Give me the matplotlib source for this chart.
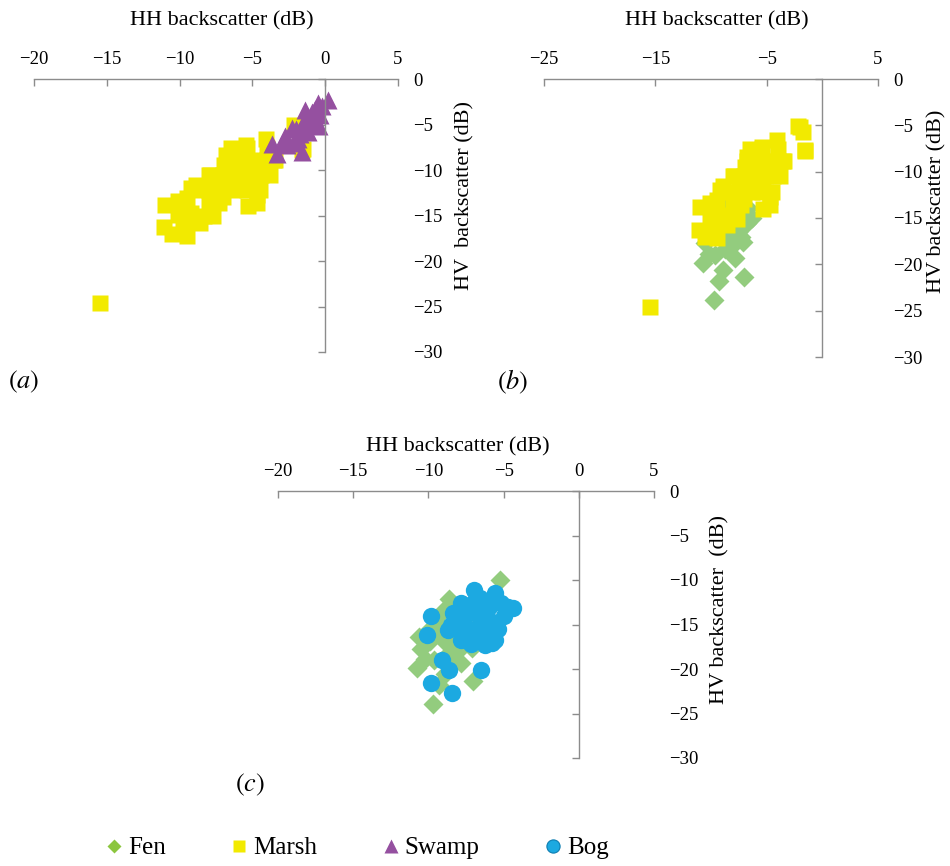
import numpy as np
import matplotlib
matplotlib.use('Agg')
import matplotlib.pyplot as plt
from matplotlib.lines import Line2D

plt.rcParams['font.family'] = ['Liberation Serif', 'DejaVu Serif']
plt.rcParams['mathtext.fontset'] = 'stix'

# HH / HV backscatter (dB) per wetland class
marsh_hh = [-15.5, -11.0, -11.1, -10.5, -9.5, -10.1, -10.1, -9.2, -8.9, -8.3, -8.0, -9.5,
            -8.9, -8.0, -6.8, -7.4, -6.95, -6.8, -6.2, -5.9, -5.45, -5.3, -5.3, -4.7, -4.7,
            -4.4, -3.8, -3.5, -4.1, -2.15, -1.7, -1.55, -6.5, -7.5, -5.0, -7.0, -6.0, -2.0, -1.6,
            -8.9, -8.0, -7.2, -7.9, -7.0, -6.1, -5.15, -6.75, -5.85, -4.9, -4.0, -3.45,
            -6.5, -5.4, -4.0, -7.3, -6.3, -5.4, -4.5, -4.4, -7.7, -8.6, -9.8, -9.2]
marsh_hv = [-24.6, -13.8, -16.3, -17.0, -17.2, -13.4, -14.9, -14.7, -15.6, -15.0, -13.4, -13.1,
            -11.6, -10.5, -12.0, -12.7, -9.5, -8.4, -8.0, -9.8, -7.3, -11.3, -14.0, -12.7, -13.6,
            -9.5, -10.5, -8.9, -6.6, -5.1, -5.7, -7.7, -10.8, -11.5, -10.0, -13.0, -11.5, -5.2, -7.8,
            -12.2, -12.2, -12.2, -10.5, -10.5, -10.5, -10.5, -8.9, -8.9, -8.9, -8.9, -8.9,
            -7.6, -7.6, -7.6, -13.6, -12.2, -12.2, -12.2, -10.5, -15.1, -15.8, -16.0, -12.0]

swamp_hh = [0.2, -0.5, -1.4, -0.35, -1.0, -1.6, -0.45, -2.3, -1.7, -2.75, -3.65, -3.3,
            -1.6, -2.6, -0.9, -1.2, -0.2, -3.0, -2.0, -1.2, -0.7, -1.3, -0.8, -2.2, -1.9]
swamp_hv = [-2.3, -2.6, -3.4, -4.0, -4.5, -5.1, -5.2, -5.4, -6.0, -6.3, -7.1, -8.2,
            -8.0, -7.3, -3.6, -5.8, -3.0, -7.0, -5.5, -4.2, -3.3, -5.0, -4.8, -7.0, -6.6]

fen_hh = [-9.7, -9.3, -7.05, -10.75, -10.2, -8.9, -7.8, -8.4, -7.1, -7.55, -6.35, -6.65, -5.25,
          -8.6, -10.5, -10.6, -9.4, -8.2, -9.0, -7.6, -8.9, -10.0, -6.8, -7.3, -9.6, -8.7,
          -9.9, -8.3, -7.9, -9.2]
fen_hv = [-23.9, -21.8, -21.4, -19.9, -18.9, -20.6, -19.3, -18.2, -17.6, -16.5, -15.0, -13.9, -10.0,
          -12.1, -17.7, -16.4, -16.0, -14.5, -13.5, -14.8, -17.0, -15.7, -15.5, -17.0, -19.0, -18.3,
          -16.8, -16.8, -17.8, -15.0]

bog_hh = [-7.0, -5.6, -4.7, -4.35, -5.15, -9.8, -10.1, -7.8, -8.35, -8.7, -7.6, -6.7, -6.5,
          -6.9, -5.8, -5.6, -7.8, -6.25, -9.1, -8.6, -6.5, -9.8, -8.45, -6.0, -7.3, -8.0,
          -7.5, -6.0, -5.0, -7.0, -6.3, -7.3, -8.0, -6.0, -5.4, -7.9, -6.6, -7.2, -8.5]
bog_hv = [-11.1, -11.5, -13.0, -13.2, -12.6, -14.1, -16.2, -12.6, -13.7, -15.6, -14.9, -13.9, -15.2,
          -16.4, -17.1, -16.7, -16.7, -17.3, -19.0, -20.1, -20.1, -21.6, -22.7, -15.2, -15.5, -14.5,
          -13.5, -13.0, -14.0, -12.5, -16.0, -16.5, -15.2, -14.5, -15.5, -14.0, -12.0, -17.2, -15.0]

xticks_ac = [-20, -15, -10, -5, 0, 5]
xticks_b = [-25, -15, -5, 5]
yticks = [0, -5, -10, -15, -20, -25, -30]

yellow = '#F2EA00'
purple = '#9550A0'
green = '#93CC7E'
blue = '#1CA9E1'
gray = '#8C8C8C'

W, H = 950, 866
fig = plt.figure(figsize=(9.5, 8.66), dpi=100)


def px_axes(x0, x1, y0, y1):
    # axes box from pixel coords (top-left origin)
    return fig.add_axes([x0 / W, 1 - y1 / H, (x1 - x0) / W, (y1 - y0) / H])


def setup(ax, xmin, xticks):
    ax.set_xlim(xmin, 5)
    ax.set_ylim(-30, 0)
    ax.set_xticks(xticks)
    ax.set_yticks(yticks)
    ax.spines['left'].set_position(('data', 0))
    ax.spines['right'].set_visible(False)
    ax.spines['bottom'].set_visible(False)
    for s in ['left', 'top']:
        ax.spines[s].set_color(gray)
        ax.spines[s].set_linewidth(1.0)
    ax.tick_params(axis='x', top=True, bottom=False, labeltop=True, labelbottom=False,
                   direction='in', length=5, width=1, color=gray, labelsize=13.5, pad=8)
    ax.tick_params(axis='y', left=True, right=False, labelleft=False, labelright=True,
                   direction='out', length=5, width=1, color=gray, labelsize=13.5, pad=6)
    ax.patch.set_alpha(0)


def ftext(x, y, s, **kw):
    fig.text(x / W, 1 - y / H, s, **kw)


# (a) marsh + swamp
ax1 = px_axes(34, 398, 79, 352)
setup(ax1, -20, xticks_ac)
ax1.plot(marsh_hh, marsh_hv, 's', ms=12, color=yellow, mec='none', ls='none')
ax1.plot(swamp_hh, swamp_hv, '^', ms=13.5, color=purple, mec='none', ls='none')

# (b) fen + marsh
ax2 = px_axes(544, 878, 79, 357)
setup(ax2, -25, xticks_b)
ax2.plot(fen_hh, fen_hv, 'D', ms=10.5, color=green, mec='none', ls='none')
ax2.plot(marsh_hh, marsh_hv, 's', ms=12, color=yellow, mec='none', ls='none')

# (c) fen + bog
ax3 = px_axes(278, 654, 491, 758)
setup(ax3, -20, xticks_ac)
ax3.plot(fen_hh, fen_hv, 'D', ms=10.5, color=green, mec='none', ls='none')
ax3.plot(bog_hh, bog_hv, 'o', ms=12.5, color=blue, mec='none', ls='none')

# axis titles
ftext(222, 21, 'HH backscatter (dB)', ha='center', va='center', fontsize=16)
ftext(717, 21, 'HH backscatter (dB)', ha='center', va='center', fontsize=16)
ftext(458, 447, 'HH backscatter (dB)', ha='center', va='center', fontsize=16)
ftext(465, 195, 'HV  backscatter (dB)', ha='center', va='center', fontsize=16, rotation=90)
ftext(937, 201, 'HV backscatter (dB)', ha='center', va='center', fontsize=16, rotation=90)
ftext(720, 610, 'HV backscatter  (dB)', ha='center', va='center', fontsize=16, rotation=90)

# panel letters
ftext(8, 382, r'$(a)$', ha='left', va='center', fontsize=19)
ftext(497, 382, r'$(b)$', ha='left', va='center', fontsize=19)
ftext(235, 785, r'$(c)$', ha='left', va='center', fontsize=19)

handles = [Line2D([], [], marker='D', ls='none', ms=7, color='#8CC63F', mec='none'),
           Line2D([], [], marker='s', ls='none', ms=9, color=yellow, mec='none'),
           Line2D([], [], marker='^', ls='none', ms=9.5, color=purple, mec='none'),
           Line2D([], [], marker='o', ls='none', ms=9.5, color=blue, mec='#0E7DB0', mew=0.8)]
fig.legend(handles, ['Fen', 'Marsh', 'Swamp', 'Bog'], loc='center', ncol=4,
           bbox_to_anchor=(357 / W, 1 - 848 / H), frameon=False, fontsize=18,
           handlelength=0.7, handletextpad=0.2, columnspacing=2.6)

plt.savefig('out.png', dpi=100)
